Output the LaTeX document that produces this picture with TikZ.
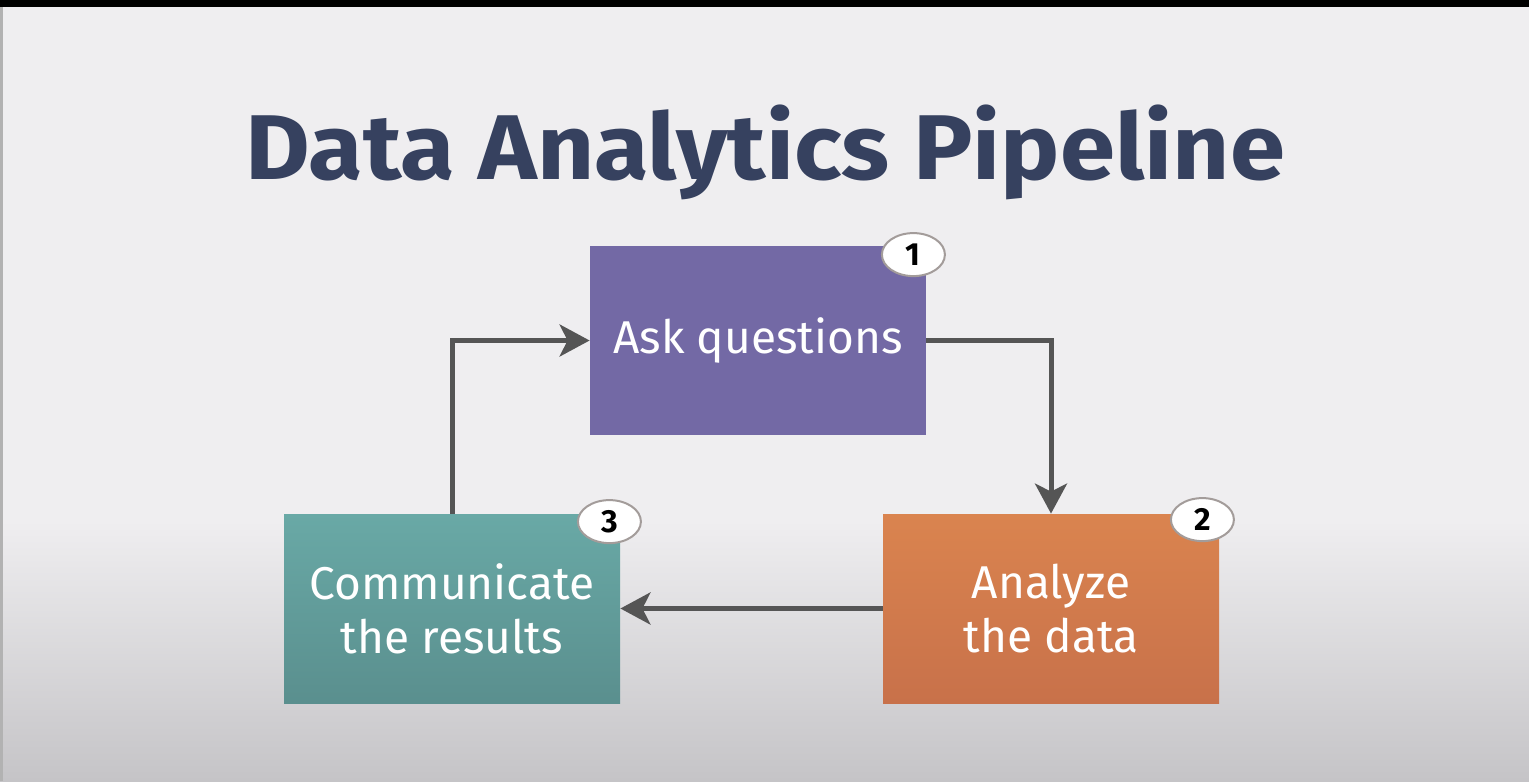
\documentclass[tikz,border=0pt]{standalone}
\usepackage{fontspec}
\usepackage{graphicx}
\setmainfont{Fira Sans}
\usetikzlibrary{arrows.meta,shapes.geometric}
\definecolor{bgc}{HTML}{EFEEF0}
\definecolor{bgb}{HTML}{C5C4C7}
\definecolor{titlec}{HTML}{36415F}
\definecolor{purp}{HTML}{7369A5}
\definecolor{orgt}{HTML}{DA844F}
\definecolor{orgb}{HTML}{C8714A}
\definecolor{tealt}{HTML}{69A9A6}
\definecolor{tealb}{HTML}{5A8F8E}
\definecolor{arrowc}{HTML}{555555}
\definecolor{badgeline}{HTML}{A39C9A}
\tikzset{
  stagebox/.style={rectangle, minimum width=168pt, minimum height=94.5pt, inner sep=0pt,
    text=white, align=center, font=\fontsize{23}{27}\selectfont},
  badge/.style={ellipse, fill=white, draw=badgeline, line width=1pt, minimum width=31.5pt,
    minimum height=21.5pt, inner sep=0pt, font=\bfseries\fontsize{16}{16}\selectfont},
  flow/.style={draw=arrowc, line width=2.5pt, -{Stealth[length=15pt,width=16pt,inset=4pt]}}
}
\begin{document}
\begin{tikzpicture}[x=0.5pt,y=-0.5pt]
\useasboundingbox (0,0) rectangle (1529,781);
\fill[bgc] (0,0) rectangle (1529,781);
\shade[top color=bgc, bottom color=bgb] (0,520) rectangle (1529,781);
\fill[black] (0,0) rectangle (1529,7);
\fill[gray!60] (0,7) rectangle (2.5,781);
\node[text=titlec, font=\bfseries\fontsize{46}{50}\selectfont] (title) at (765,152) {\scalebox{1.08}[1]{Data Analytics Pipeline}};
\node[stagebox, fill=purp] (ask) at (758,340.5) {Ask questions};
\node[stagebox, top color=orgt, bottom color=orgb] (ana) at (1051,608.5) {Analyze\\the data};
\node[stagebox, top color=tealt, bottom color=tealb] (com) at (452,608.5) {Communicate\\the results};
\node[badge] (b1) at ([xshift=-6.5pt,yshift=-4.5pt]ask.north east) {1};
\node[badge] (b2) at ([xshift=-8.5pt,yshift=-3pt]ana.north east) {2};
\node[badge] (b3) at ([xshift=-5.5pt,yshift=-4pt]com.north east) {3};
\draw[flow] (ask.east) -| (ana.north);
\draw[flow] (ana.west) -- (com.east);
\draw[flow] (com.north) |- (ask.west);
\end{tikzpicture}
\end{document}
